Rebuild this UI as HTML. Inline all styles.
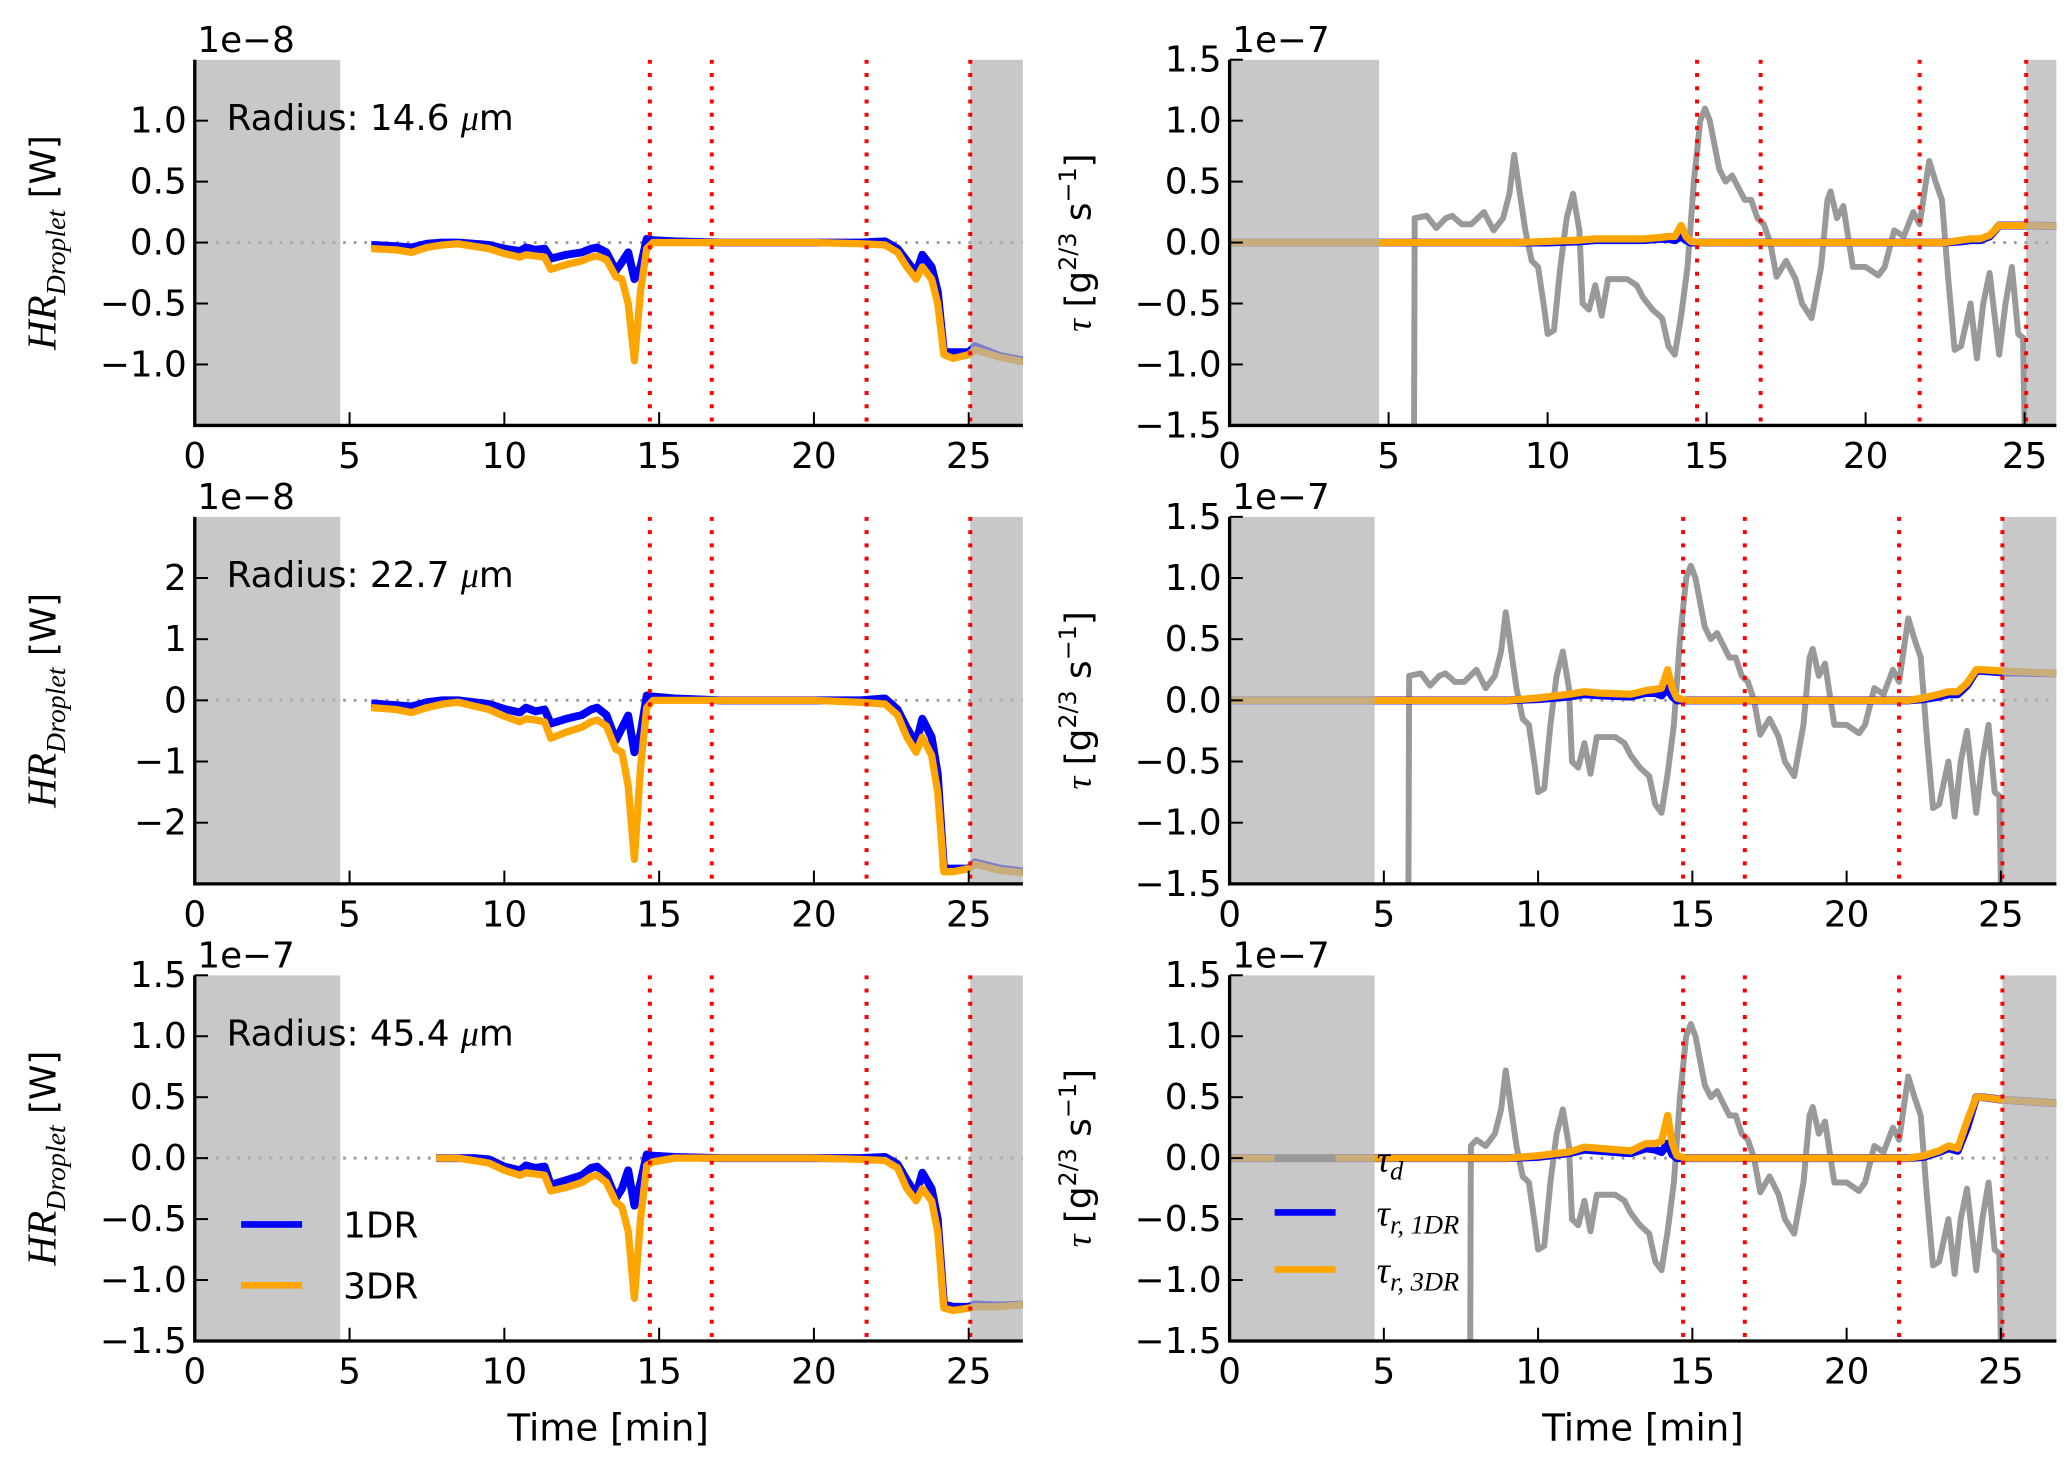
<!DOCTYPE html>
<html><head><meta charset="utf-8"><style>
html,body{margin:0;padding:0;background:#fff}
svg{display:block;font-family:"DejaVu Sans","Liberation Sans",sans-serif}
</style></head><body>
<svg id="fig" width="2067" height="1459" viewBox="0 0 1560 1101" xmlns="http://www.w3.org/2000/svg"></svg>
<script>
// ---- data ----
const markers = [14.7, 16.7, 21.7, 25.05];
const hrTime = [5.7,6.5,7.0,7.5,8.0,8.5,9.0,9.5,10.0,10.5,10.7,11.0,11.3,11.5,12.0,12.5,12.8,13.0,13.3,13.6,13.8,14.0,14.2,14.4,14.6,14.8,15.5,17,20,21.5,22.3,22.7,23.0,23.3,23.5,23.8,24.0,24.2,24.5,25.0,25.2,26.0,26.8];
const hr1Top = [-0.02,-0.03,-0.04,-0.01,0,0,-0.01,-0.02,-0.05,-0.07,-0.04,-0.06,-0.05,-0.13,-0.1,-0.08,-0.05,-0.04,-0.08,-0.23,-0.16,-0.08,-0.3,-0.2,0.03,0.02,0.01,0,0,0,0.01,-0.05,-0.15,-0.25,-0.1,-0.2,-0.4,-0.9,-0.9,-0.9,-0.85,-0.93,-0.97];
const hr3Top = [-0.05,-0.06,-0.08,-0.04,-0.02,-0.01,-0.03,-0.05,-0.09,-0.12,-0.1,-0.11,-0.12,-0.22,-0.18,-0.15,-0.12,-0.11,-0.14,-0.28,-0.3,-0.5,-0.97,-0.4,-0.05,0,0,0,0,-0.01,-0.02,-0.08,-0.2,-0.3,-0.2,-0.3,-0.5,-0.92,-0.95,-0.92,-0.88,-0.94,-0.98];
const hr1Mid = [-0.05,-0.08,-0.1,-0.03,0,0,-0.03,-0.06,-0.14,-0.2,-0.12,-0.18,-0.15,-0.38,-0.3,-0.24,-0.15,-0.12,-0.24,-0.65,-0.45,-0.25,-0.85,-0.55,0.08,0.06,0.03,0,0,0,0.03,-0.15,-0.45,-0.7,-0.3,-0.6,-1.2,-2.75,-2.75,-2.75,-2.65,-2.75,-2.8];
const hr3Mid = [-0.12,-0.15,-0.2,-0.12,-0.06,-0.03,-0.09,-0.15,-0.26,-0.35,-0.3,-0.32,-0.35,-0.62,-0.52,-0.44,-0.35,-0.32,-0.42,-0.8,-0.85,-1.4,-2.6,-1.1,-0.12,0,0,0,0,-0.03,-0.06,-0.24,-0.6,-0.85,-0.6,-0.9,-1.5,-2.8,-2.8,-2.75,-2.68,-2.78,-2.82];
const hrTimeLow = [7.8,8.5,9.0,9.5,10.0,10.5,10.7,11.0,11.3,11.5,12.0,12.5,12.8,13.0,13.3,13.6,13.8,14.0,14.2,14.4,14.6,14.8,15.5,17,20,21.5,22.3,22.7,23.0,23.3,23.5,23.8,24.0,24.2,24.5,25.0,25.2,26.0,26.8];
const hr1Low = [0,0,0,-0.01,-0.07,-0.1,-0.06,-0.08,-0.07,-0.22,-0.18,-0.14,-0.08,-0.07,-0.14,-0.33,-0.25,-0.1,-0.39,-0.2,0.03,0.02,0.01,0,0,0,0.01,-0.05,-0.18,-0.3,-0.12,-0.25,-0.5,-1.2,-1.22,-1.22,-1.2,-1.21,-1.2];
const hr3Low = [0,0,-0.02,-0.04,-0.1,-0.14,-0.12,-0.13,-0.14,-0.27,-0.24,-0.2,-0.15,-0.14,-0.2,-0.36,-0.4,-0.6,-1.15,-0.5,-0.06,-0.03,0,0,0,-0.01,-0.02,-0.08,-0.25,-0.35,-0.25,-0.35,-0.6,-1.23,-1.25,-1.23,-1.22,-1.22,-1.2];
const tdTime = [5.8,5.82,6.2,6.5,6.8,7.0,7.3,7.6,8.0,8.3,8.6,8.8,8.95,9.1,9.3,9.5,9.7,9.9,10.0,10.2,10.4,10.6,10.8,11.0,11.1,11.3,11.5,11.7,11.9,12.2,12.5,12.8,13.0,13.3,13.6,13.8,14.0,14.2,14.4,14.6,14.8,14.95,15.1,15.4,15.6,15.8,16.0,16.2,16.4,16.6,16.8,17.0,17.2,17.5,17.8,18.0,18.3,18.6,18.8,18.9,19.1,19.3,19.6,20.0,20.4,20.6,20.9,21.2,21.5,21.7,21.9,22.0,22.2,22.4,22.6,22.8,23.0,23.3,23.5,23.7,23.9,24.2,24.4,24.6,24.8,24.95,25.0];
const tdVal = [-1.5,0.2,0.22,0.12,0.2,0.22,0.15,0.15,0.25,0.1,0.2,0.4,0.72,0.45,0.1,-0.15,-0.2,-0.55,-0.75,-0.72,-0.2,0.2,0.4,0.1,-0.5,-0.55,-0.35,-0.6,-0.3,-0.3,-0.3,-0.35,-0.45,-0.55,-0.62,-0.85,-0.92,-0.6,-0.2,0.5,1.0,1.1,1.0,0.6,0.5,0.55,0.45,0.35,0.35,0.2,0.15,0.0,-0.28,-0.15,-0.3,-0.5,-0.62,-0.2,0.35,0.42,0.2,0.3,-0.2,-0.2,-0.27,-0.2,0.1,0.05,0.25,0.15,0.5,0.67,0.5,0.35,-0.3,-0.88,-0.85,-0.5,-0.95,-0.5,-0.25,-0.92,-0.5,-0.2,-0.75,-0.78,-1.5];
const tdTimeLow = [7.8,7.82,8.0,8.3,8.6,8.8,8.95,9.1,9.3,9.5,9.7,9.9,10.0,10.2,10.4,10.6,10.8,11.0,11.1,11.3,11.5,11.7,11.9,12.2,12.5,12.8,13.0,13.3,13.6,13.8,14.0,14.2,14.4,14.6,14.8,14.95,15.1,15.4,15.6,15.8,16.0,16.2,16.4,16.6,16.8,17.0,17.2,17.5,17.8,18.0,18.3,18.6,18.8,18.9,19.1,19.3,19.6,20.0,20.4,20.6,20.9,21.2,21.5,21.7,21.9,22.0,22.2,22.4,22.6,22.8,23.0,23.3,23.5,23.7,23.9,24.2,24.4,24.6,24.8,24.95,25.0];
const tdValLow = [-1.5,0.1,0.15,0.1,0.2,0.4,0.72,0.45,0.1,-0.15,-0.2,-0.55,-0.75,-0.72,-0.2,0.2,0.4,0.1,-0.5,-0.55,-0.35,-0.6,-0.3,-0.3,-0.3,-0.35,-0.45,-0.55,-0.62,-0.85,-0.92,-0.6,-0.2,0.5,1.0,1.1,1.0,0.6,0.5,0.55,0.45,0.35,0.35,0.2,0.15,0.0,-0.28,-0.15,-0.3,-0.5,-0.62,-0.2,0.35,0.42,0.2,0.3,-0.2,-0.2,-0.27,-0.2,0.1,0.05,0.25,0.15,0.5,0.67,0.5,0.35,-0.3,-0.88,-0.85,-0.5,-0.95,-0.5,-0.25,-0.92,-0.5,-0.2,-0.75,-0.78,-1.5];
const trTime = [0,9,10,11,11.5,12,13,13.5,13.8,14.0,14.2,14.35,14.5,14.8,16,22,22.5,23,23.3,23.6,23.9,24.2,24.4,25,26.8];
const tr1Top = [0,0,0,0.01,0.02,0.02,0.02,0.03,0.03,0.02,0.05,0.02,0,0,0,0,0,0.01,0.02,0.02,0.05,0.14,0.14,0.14,0.13];
const tr3Top = [0,0,0.01,0.02,0.03,0.03,0.03,0.04,0.05,0.05,0.14,0.05,0.01,0,0,0,0,0.02,0.03,0.03,0.06,0.14,0.14,0.14,0.13];
const tr1Mid = [0,0,0.01,0.03,0.05,0.04,0.03,0.06,0.06,0.04,0.1,0.03,0,0,0,0,0.01,0.03,0.05,0.05,0.12,0.24,0.24,0.23,0.22];
const tr3Mid = [0,0,0.02,0.05,0.07,0.06,0.05,0.08,0.09,0.1,0.25,0.1,0.02,0,0,0,0.02,0.05,0.07,0.07,0.14,0.25,0.25,0.24,0.22];
const tr1Low = [0,0,0.01,0.04,0.07,0.06,0.04,0.08,0.07,0.05,0.12,0.03,0,0,0,0,0.01,0.05,0.08,0.06,0.25,0.5,0.5,0.48,0.45];
const tr3Low = [0,0,0.02,0.05,0.09,0.08,0.06,0.12,0.12,0.14,0.35,0.12,0.02,0,0,0,0.02,0.06,0.1,0.08,0.3,0.5,0.5,0.48,0.45];
const tickHRTop = [-1.0,-0.5,0.0,0.5,1.0];
const tickHRMid = [-2,-1,0,1,2];
const tickFull = [-1.5,-1.0,-0.5,0.0,0.5,1.0,1.5];
const xTicks = [0,5,10,15,20,25];

const NS = "http://www.w3.org/2000/svg";
const fig = document.getElementById('fig');
function mk(tag, attrs, parent){const e=document.createElementNS(NS,tag);for(const k in attrs)e.setAttribute(k,attrs[k]);(parent||fig).appendChild(e);return e;}
function fmt(v,dec){return (v<0?"\u2212":"")+Math.abs(v).toFixed(dec);}

function panel(o){
  const g = mk('g',{});
  
  
  const X = t => o.x0 + (t - 0) / o.xmax * (o.x1 - o.x0);
  const Y = v => o.y0 + (o.ymax - v) / (2*o.ymax) * (o.y1 - o.y0);
  const clipId = 'c'+o.name;
  const cp = mk('clipPath',{id:clipId},g); mk('rect',{x:o.x0,y:o.y0,width:o.x1-o.x0,height:o.y1-o.y0},cp);
  const plot = mk('g',{'clip-path':'url(#'+clipId+')'},g);
  const z = mk('line',{x1:o.x0,x2:o.x1,y1:Y(0),y2:Y(0),stroke:'#999','stroke-width':2.2,'stroke-dasharray':'2 6'},plot);
  
  
  function line(ts,vs,color,w,name){
    const d = ts.map((t,i)=>(i?'L':'M')+X(t).toFixed(1)+' '+Y(vs[i]).toFixed(1)).join(' ');
    const p = mk('path',{d:d,fill:'none',stroke:color,'stroke-width':w,'stroke-linejoin':'round'},plot);
    
    
  }
  if (o.td) line(o.tdt, o.tdv, '#999', 4.5, 'tau-d-line');
  line(o.t, o.s1, '#0000ff', 6, 'series-1dr-line');
  line(o.t, o.s3, '#ffa500', 5.5, 'series-3dr-line');
  const s1 = mk('rect',{x:X(0),y:o.y0,width:X(4.7)-X(0),height:o.y1-o.y0,fill:'#b0b0b0','fill-opacity':0.7},plot);
  
  
  const s2 = mk('rect',{x:X(25.05),y:o.y0,width:o.x1-X(25.05),height:o.y1-o.y0,fill:'#b0b0b0','fill-opacity':0.7},plot);
  
  
  markers.forEach(m=>{
    const l = mk('line',{x1:X(m),x2:X(m),y1:o.y0,y2:o.y1,stroke:'#ff0000','stroke-width':3,'stroke-dasharray':'3 7'},plot);
    
    
  });
  const ax = mk('path',{d:`M${o.x0} ${o.y0} L${o.x0} ${o.y1} L${o.x1} ${o.y1}`,fill:'none',stroke:'#000','stroke-width':2.5},g);
  
  
  xTicks.forEach(t=>{
    mk('line',{x1:X(t),x2:X(t),y1:o.y1,y2:o.y1-10,stroke:'#000','stroke-width':1.5},g);
    const tx = mk('text',{x:X(t),y:o.y1+32,'font-size':27,'text-anchor':'middle'},g);
    tx.textContent = t;
    
    
  });
  o.yt.forEach(v=>{
    mk('line',{x1:o.x0,x2:o.x0+10,y1:Y(v),y2:Y(v),stroke:'#000','stroke-width':1.5},g);
    const tx = mk('text',{x:o.x0-6,y:Y(v)+9,'font-size':27,'text-anchor':'end'},g);
    tx.textContent = fmt(v,o.dec);
    
    
  });
  const ex = mk('text',{x:o.x0+2,y:o.y0-6,'font-size':27},g);
  ex.textContent = o.exp;
  
  
  if (o.radius){
    const r = mk('text',{x:o.x0+24,y:o.y0+53,'font-size':27},g);
    r.textContent = 'Radius: '+o.radius+' ';
    const mu = mk('tspan',{'font-style':'italic','font-family':'"Liberation Serif",serif'},r); mu.textContent='\u03bc';
    const m2 = mk('tspan',{},r); m2.textContent='m';
    
    
  }
  const cy = (o.y0+o.y1)/2;
  const yl = mk('text',{x:0,y:0,'font-size':27,'text-anchor':'middle',transform:`translate(${o.x0-105},${cy}) rotate(-90)`},g);
  if (o.td){
    const a=mk('tspan',{'font-style':'italic','font-family':'"Liberation Serif",serif'},yl); a.textContent='\u03c4';
    const b=mk('tspan',{},yl); b.textContent=' [g';
    const c=mk('tspan',{'font-size':18,dy:-11},yl); c.textContent='2/3';
    const d=mk('tspan',{dy:11},yl); d.textContent='  s';
    const e=mk('tspan',{'font-size':18,dy:-11},yl); e.textContent='\u22121';
    const f=mk('tspan',{dy:11},yl); f.textContent=']';
  } else {
    const a=mk('tspan',{'font-style':'italic','font-family':'"Liberation Serif",serif','font-size':31},yl); a.textContent='HR';
    const b=mk('tspan',{'font-style':'italic','font-family':'"Liberation Serif",serif','font-size':21,dy:7},yl); b.textContent='Droplet';
    const c=mk('tspan',{dy:-7},yl); c.textContent='  [W]';
  }
  
  
  return {X,Y,g};
}

const L = {x0:147,x1:772}, R = {x0:928,x1:1552};
const rows = [{y0:45,y1:321},{y0:390,y1:667},{y0:736,y1:1012}];
panel({name:'panel-hr-14-6',...L,...rows[0],xmax:26.75,ymax:1.5,yt:tickHRTop,dec:1,exp:'1e\u22128',t:hrTime,s1:hr1Top,s3:hr3Top,radius:'14.6'});
panel({name:'panel-hr-22-7',...L,...rows[1],xmax:26.75,ymax:3,yt:tickHRMid,dec:0,exp:'1e\u22128',t:hrTime,s1:hr1Mid,s3:hr3Mid,radius:'22.7'});
panel({name:'panel-hr-45-4',...L,...rows[2],xmax:26.75,ymax:1.5,yt:tickFull,dec:1,exp:'1e\u22127',t:hrTimeLow,s1:hr1Low,s3:hr3Low,radius:'45.4'});
panel({name:'panel-tau-14-6',...R,...rows[0],xmax:26.0,ymax:1.5,yt:tickFull,dec:1,exp:'1e\u22127',t:trTime,s1:tr1Top,s3:tr3Top,td:true,tdt:tdTime,tdv:tdVal});
panel({name:'panel-tau-22-7',...R,...rows[1],xmax:26.8,ymax:1.5,yt:tickFull,dec:1,exp:'1e\u22127',t:trTime,s1:tr1Mid,s3:tr3Mid,td:true,tdt:tdTime,tdv:tdVal});
panel({name:'panel-tau-45-4',...R,...rows[2],xmax:26.8,ymax:1.5,yt:tickFull,dec:1,exp:'1e\u22127',t:trTime,s1:tr1Low,s3:tr3Low,td:true,tdt:tdTimeLow,tdv:tdValLow});

function legendEntry(x,y,color,label,italicSub){
  const g = mk('g',{});
  
  
  mk('line',{x1:x,x2:x+46,y1:y,y2:y,stroke:color,'stroke-width':5},g);
  const t = mk('text',{x:x+77,y:y+10,'font-size':27},g);
  if (italicSub){
    const a=mk('tspan',{'font-style':'italic','font-family':'"Liberation Serif",serif','font-size':28},t); a.textContent='\u03c4';
    const b=mk('tspan',{'font-style':'italic','font-family':'"Liberation Serif",serif','font-size':20,dy:6},t); b.textContent=italicSub;
  } else t.textContent = label;
}
legendEntry(182,924,'#0000ff','1DR');
legendEntry(182,970,'#ffa500','3DR');
legendEntry(962,874,'#999','', 'd');
legendEntry(962,915,'#0000ff','', 'r, 1DR');
legendEntry(962,958,'#ffa500','', 'r, 3DR');

[459,1240].forEach(cx=>{
  const t = mk('text',{x:cx,y:1087,'font-size':28,'text-anchor':'middle'});
  t.textContent='Time [min]';
  
  
});
</script>
</body></html>
